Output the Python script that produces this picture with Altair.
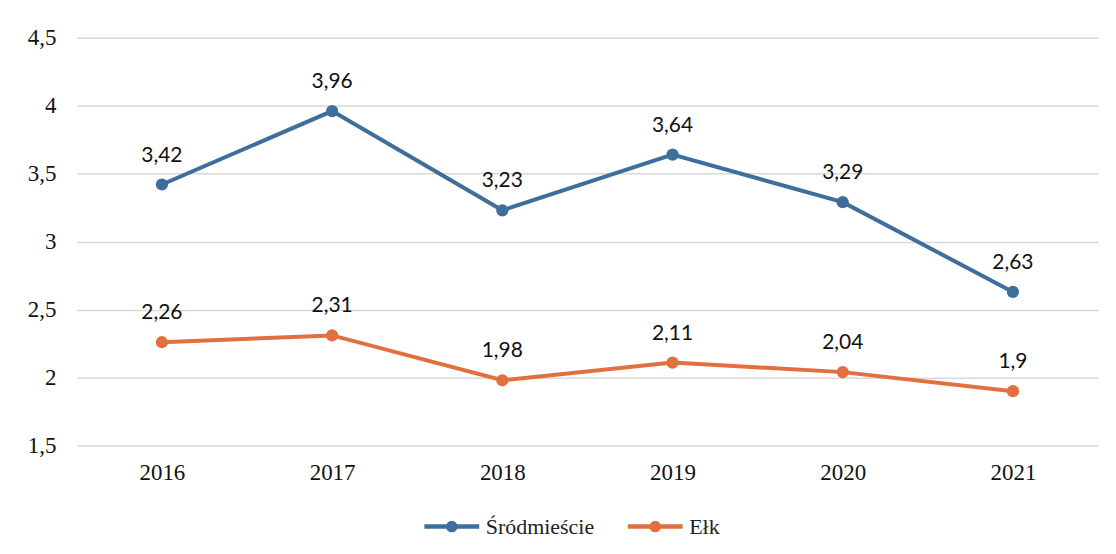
import altair as alt
import pandas as pd

years = ["2016", "2017", "2018", "2019", "2020", "2021"]
srodmiescie = [3.42, 3.96, 3.23, 3.64, 3.29, 2.63]
elk = [2.26, 2.31, 1.98, 2.11, 2.04, 1.90]
series_names = ["Śródmieście", "Ełk"]
colors = ["#3E6F9C", "#E2703F"]
y_ticks = [1.5, 2, 2.5, 3, 3.5, 4, 4.5]

rows = []
for name, vals in zip(series_names, [srodmiescie, elk]):
    for yr, v in zip(years, vals):
        rows.append({"rok": yr, "seria": name, "wartosc": v})
df = pd.DataFrame(rows)

x_enc = alt.X("rok:N", sort=years, title=None,
              scale=alt.Scale(type="point", padding=0.5),
              axis=alt.Axis(labelAngle=0, labelFont="Liberation Serif", labelFontSize=23,
                            labelColor="#111", labelPadding=16, ticks=False, domain=False,
                            grid=False))
y_enc = alt.Y("wartosc:Q", title=None,
              scale=alt.Scale(domain=[1.5, 4.5], nice=False, zero=False),
              axis=alt.Axis(values=y_ticks, format="~g",
                            labelExpr="replace(datum.label, '.', ',')",
                            labelFont="Liberation Serif", labelFontSize=23, labelColor="#111",
                            labelPadding=21, ticks=False, domain=False,
                            gridColor="#d9d9d9", gridWidth=1.5))
color_enc = alt.Color("seria:N", sort=series_names,
                      scale=alt.Scale(domain=series_names, range=colors),
                      legend=alt.Legend(title=None, orient="none", direction="horizontal",
                                        legendX=346, legendY=460,
                                        symbolType="M-1,0L1,0M-0.13,0A0.13,0.13 0 1,0 0.13,0A0.13,0.13 0 1,0 -0.13,0",
                                        symbolSize=3025, symbolStrokeWidth=4.5,
                                        labelFont="Liberation Serif", labelFontSize=22,
                                        labelColor="#222", columnPadding=24, labelOffset=4))

base = alt.Chart(df).encode(x=x_enc, y=y_enc)

lines = base.mark_line(strokeWidth=4).encode(color=color_enc)
points = base.mark_circle(size=150, opacity=1).encode(
    color=alt.Color("seria:N", sort=series_names,
                    scale=alt.Scale(domain=series_names, range=colors), legend=None))
labels = base.transform_calculate(
    lab="replace(format(datum.wartosc, '.3~f'), '.', ',')"
).mark_text(dy=-29, font="Lato", fontSize=21, color="#111").encode(text="lab:N")

chart = alt.layer(lines, points, labels).properties(
    width=1024, height=409,
    autosize=alt.AutoSizeParams(type="none"),
    padding={"left": 69, "top": 29, "right": 10, "bottom": 100},
).configure(background="white").configure_view(stroke=None)

chart.save("out.html", embed_options={"renderer": "svg", "actions": False})
